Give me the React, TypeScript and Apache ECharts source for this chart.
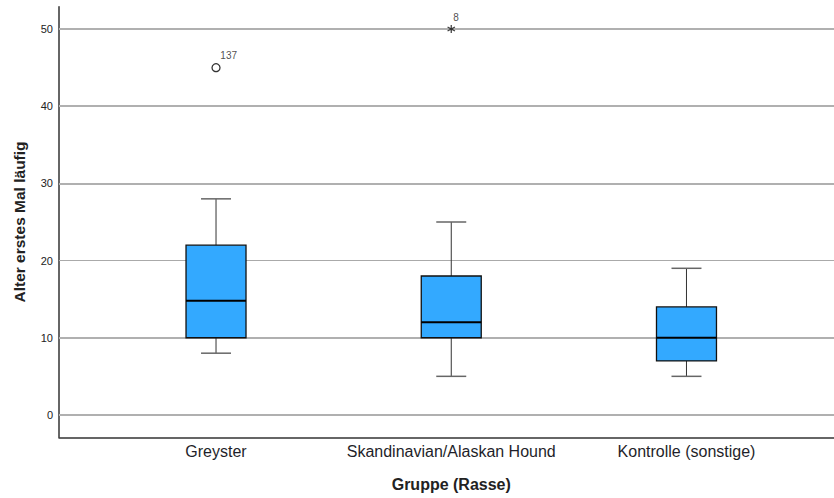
import React, { useEffect, useRef } from "react";
import * as echarts from "echarts";

const categories = ["Greyster", "Skandinavian/Alaskan Hound", "Kontrolle (sonstige)"];
// [min, Q1, median, Q3, max]
const boxStats = [
  [8, 10, 14.8, 22, 28],
  [5, 10, 12, 18, 25],
  [5, 7, 10, 14, 19],
];
const outlierCats = [0, 1];
const outlierValues = [45, 50];
const outlierLabels = ["137", "8"];
const outlierKinds = ["circle", "star"];
const yTicks = [0, 10, 20, 30, 40, 50];

const FONT = 'Arial, "Liberation Sans", Helvetica, sans-serif';
const STAR =
  "path://M-0.6,-4L0.6,-4L0.6,4L-0.6,4Z M3.164,-2.52L3.764,-1.48L-3.164,2.52L-3.764,1.48Z M3.764,1.48L3.164,2.52L-3.764,-1.48L-3.164,-2.52Z";

export default function App() {
  const ref = useRef<HTMLDivElement>(null);
  useEffect(() => {
    document.body.style.margin = "0";
    const chart = echarts.init(ref.current!, null, { renderer: "svg" });
    const yMin = -2.9;
    const yMax = 52.9;
    const gridTop = 6.7;
    const gridBottom = 60.7;

    const customData = boxStats.map((s, i) => [i, ...s]);
    const outlierData = outlierCats.map((c, i) => ({
      value: [c, outlierValues[i]],
      symbol: outlierKinds[i] === "circle" ? "circle" : STAR,
      symbolSize: 8,
      itemStyle:
        outlierKinds[i] === "circle"
          ? { color: "#ffffff", borderColor: "#000", borderWidth: 1.3 }
          : { color: "#111", borderWidth: 0 },
      label: {
        show: true,
        formatter: outlierLabels[i],
        position: outlierKinds[i] === "circle" ? [9, -13] : [6, -13],
        align: "left",
        verticalAlign: "top",
        fontSize: 10,
        fontFamily: FONT,
        color: "#222",
      },
    }));

    const option: any = {
      animation: false,
      backgroundColor: "#ffffff",
      grid: [
        { left: 59, right: 0, top: gridTop, bottom: gridBottom },
        { left: 98.4, right: 29.9, top: gridTop, bottom: gridBottom },
      ],
      xAxis: [
        {
          gridIndex: 0,
          type: "value",
          min: 0,
          max: 1,
          axisLine: { show: true, onZero: false, lineStyle: { color: "#333", width: 1.5 } },
          axisTick: { show: false },
          axisLabel: { show: false },
          splitLine: { show: false },
        },
        {
          gridIndex: 1,
          type: "category",
          data: categories,
          boundaryGap: true,
          axisLine: { show: false, onZero: false },
          axisTick: { show: false },
          axisLabel: { interval: 0, fontSize: 16, fontFamily: FONT, color: "#1f1f2a", margin: 6 },
          name: "Gruppe (Rasse)",
          nameLocation: "middle",
          nameGap: 39,
          nameTextStyle: { fontSize: 16, fontWeight: "bold", fontFamily: FONT, color: "#222" },
        },
      ],
      yAxis: [
        {
          gridIndex: 0,
          type: "value",
          min: yMin,
          max: yMax,
          axisLine: { show: true, onZero: false, lineStyle: { color: "#333", width: 1.5 } },
          axisTick: { show: false },
          axisLabel: {
            customValues: yTicks,
            fontSize: 11,
            fontFamily: FONT,
            color: "#222",
            margin: 6,
          },
          splitLine: { show: false },
          name: "Alter erstes Mal läufig",
          nameLocation: "middle",
          nameGap: 32,
          nameTextStyle: { fontSize: 15.5, fontWeight: "bold", fontFamily: FONT, color: "#222" },
        },
        {
          gridIndex: 1,
          type: "value",
          min: yMin,
          max: yMax,
          show: false,
          splitLine: { show: false },
        },
      ],
      series: [
        {
          type: "line",
          xAxisIndex: 0,
          yAxisIndex: 0,
          data: [],
          z: 1,
          markLine: {
            silent: true,
            z: 1,
            symbol: ["none", "none"],
            label: { show: false },
            data: yTicks.map((v) => ({
              yAxis: v,
              lineStyle: {
                color: v === 20 ? "#aaaaaa" : "#b0b0b0",
                width: v === 20 ? 1 : 2,
                type: "solid",
              },
            })),
          },
        },
        {
          type: "custom",
          xAxisIndex: 1,
          yAxisIndex: 1,
          z: 3,
          data: customData,
          renderItem: (params: any, api: any) => {
            const idx = api.value(0);
            const x = api.coord([idx, 0])[0];
            const band = api.size([1, 0])[0];
            const hw = (band * 0.255) / 2;
            const cw = hw / 2;
            const yMinP = api.coord([idx, api.value(1)])[1];
            const yQ1 = api.coord([idx, api.value(2)])[1];
            const yMed = api.coord([idx, api.value(3)])[1];
            const yQ3 = api.coord([idx, api.value(4)])[1];
            const yMaxP = api.coord([idx, api.value(5)])[1];
            return {
              type: "group",
              children: [
                { type: "line", shape: { x1: x, y1: yMinP, x2: x, y2: yQ1 }, style: { stroke: "#333", lineWidth: 1 } },
                { type: "line", shape: { x1: x, y1: yQ3, x2: x, y2: yMaxP }, style: { stroke: "#333", lineWidth: 1 } },
                { type: "line", shape: { x1: x - cw, y1: yMinP, x2: x + cw, y2: yMinP }, style: { stroke: "#666", lineWidth: 1.5 } },
                { type: "line", shape: { x1: x - cw, y1: yMaxP, x2: x + cw, y2: yMaxP }, style: { stroke: "#666", lineWidth: 1.5 } },
                {
                  type: "rect",
                  shape: { x: x - hw, y: yQ3, width: hw * 2, height: yQ1 - yQ3 },
                  style: { fill: "#33a9ff", stroke: "#111", lineWidth: 1.3 },
                },
                { type: "line", shape: { x1: x - hw, y1: yMed, x2: x + hw, y2: yMed }, style: { stroke: "#000", lineWidth: 2 } },
              ],
            };
          },
        },
        {
          type: "scatter",
          xAxisIndex: 1,
          yAxisIndex: 1,
          z: 4,
          data: outlierData,
        },
      ],
    };
    chart.setOption(option);
    return () => chart.dispose();
  }, []);
  return (
    <div
      ref={ref}
      style={{ position: "fixed", left: 0, top: 0, width: 834, height: 498, background: "#fff" }}
    />
  );
}
